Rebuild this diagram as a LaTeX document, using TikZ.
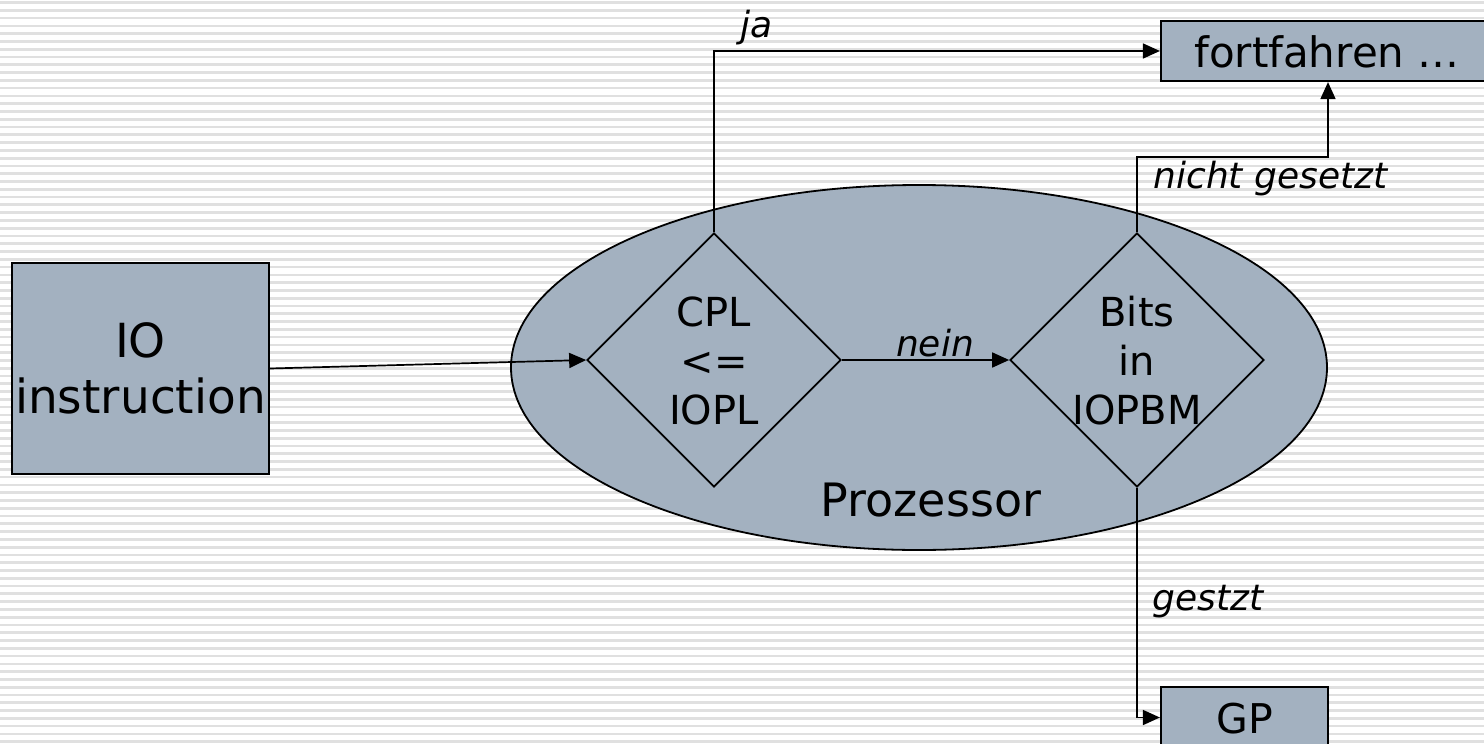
\documentclass[tikz,border=0pt]{standalone}
\usepackage{fontspec}
\setmainfont{DejaVu Sans}
\usetikzlibrary{shapes.geometric,arrows.meta}
\definecolor{boxfill}{RGB}{163,177,192}
\definecolor{stripe}{RGB}{224,224,224}
\tikzset{
  box/.style={draw=black,line width=1.1pt,fill=boxfill,inner sep=0pt},
  decision/.style={draw=black,line width=0.85pt,diamond,aspect=1,inner sep=0pt,
    minimum width=127pt,minimum height=127pt},
  arr/.style={draw=black,line width=0.85pt,-{Triangle[length=8.5pt,width=7.5pt]}},
  tag/.style={font=\fontsize{18}{20}\selectfont\itshape,inner sep=0pt,anchor=base west},
  dtext/.style={align=center,font=\fontsize{20}{24.5}\selectfont,inner sep=0pt}
}
\begin{document}
\begin{tikzpicture}[x=0.5pt,y=-0.5pt]
\useasboundingbox (0,0) rectangle (1484,744);
% striped background
\fill[white] (0,0) rectangle (1484,744);
\foreach \i in {0,...,95} {
  \fill[stripe] (0,{1.2+7.78*\i}) rectangle (1484,{3.9+7.78*\i});
}
% processor
\node[draw=black,line width=0.9pt,fill=boxfill,ellipse,inner sep=0pt,
  minimum width=816pt*0.5,minimum height=365pt*0.5] (cpu) at (919,367.5) {};
\node[font=\fontsize{23}{26}\selectfont,anchor=base,inner sep=0pt] (cpulabel) at (931,516) {Prozessor};
% boxes
\node[box,minimum width=128.5pt,minimum height=105.5pt,align=center,
  font=\fontsize{23.5}{28}\selectfont] (io) at (140.5,368.5) {IO\\instruction};
\node[box,minimum width=167pt,minimum height=30pt] (fort) at (1328,51) {};
\node[font=\fontsize{21}{24}\selectfont,anchor=base,inner sep=0pt] (forttext) at (1327,68) {fortfahren …};
\node[box,minimum width=83.5pt,minimum height=30.5pt] (gp) at (1244.5,717.5) {};
\node[font=\fontsize{20.5}{24}\selectfont,anchor=base,inner sep=0pt] (gptext) at (1245,733) {GP};
% decisions
\node[decision] (d1) at (714,360) {};
\node[dtext] (d1text) at (714,361) {CPL\\<=\\IOPL};
\node[decision] (d2) at (1137,360) {};
\node[dtext] (d2text) at (1137,361) {Bits\\in\\IOPBM};
% connectors
\coordinate (nb) at (1328,157);
\draw[arr] (io.east) -- (d1.west);
\draw[arr] (d1.north) |- (fort.west);
\draw[arr] (d1.east) -- (d2.west);
\draw[arr] (d2.north) |- (nb) -- (fort.south);
\draw[arr] (d2.south) |- (gp.west);
% edge labels
\node[tag,anchor=base] (ja) at (757,38) {ja};
\node[tag,anchor=base] (nein) at (935,356) {nein};
\node[tag] (nicht) at (1153,188) {nicht gesetzt};
\node[tag] (gestzt) at (1152,610) {gestzt};
\end{tikzpicture}
\end{document}
